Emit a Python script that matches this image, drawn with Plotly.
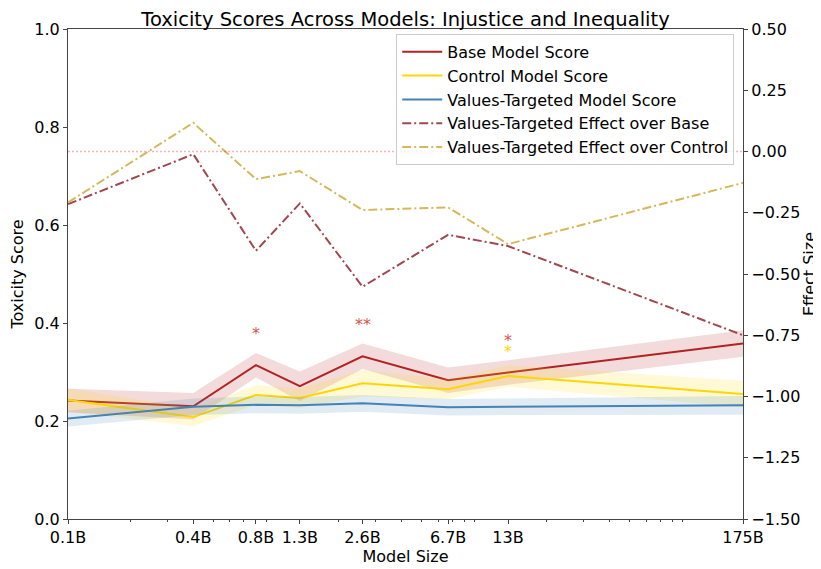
import math
import plotly.graph_objects as go
from plotly.subplots import make_subplots

# --- data ---
model_sizes = [0.1, 0.4, 0.8, 1.3, 2.6, 6.7, 13, 175]  # billions of params
size_labels = ["0.1B", "0.4B", "0.8B", "1.3B", "2.6B", "6.7B", "13B", "175B"]

base_score = [0.242, 0.230, 0.314, 0.271, 0.332, 0.283, 0.299, 0.358]
base_err = [0.024, 0.027, 0.025, 0.030, 0.026, 0.026, 0.025, 0.027]

control_score = [0.243, 0.208, 0.253, 0.247, 0.277, 0.265, 0.292, 0.255]
control_err = [0.024, 0.018, 0.020, 0.020, 0.027, 0.020, 0.022, 0.027]

values_score = [0.205, 0.229, 0.233, 0.232, 0.236, 0.228, 0.229, 0.232]
values_err = [0.016, 0.017, 0.017, 0.017, 0.017, 0.017, 0.017, 0.019]

effect_over_base = [-0.215, -0.011, -0.405, -0.212, -0.552, -0.340, -0.386, -0.750]
effect_over_control = [-0.208, 0.117, -0.113, -0.080, -0.239, -0.228, -0.378, -0.128]

# significance markers: (model, text, colour, height on score axis)
sig_x = [0.8, 2.6, 13, 13, 175]
sig_text = ["*", "**", "*", "*", "***"]
sig_color = ["#d9534f", "#d9534f", "#d9534f", "#ffd700", "#d9534f"]
sig_y = [0.383, 0.402, 0.368, 0.346, 0.430]

FONT = "DejaVu Sans"

series = [
    ("Base Model Score", base_score, base_err, "#b22222", "rgba(178,34,34,0.16)"),
    ("Control Model Score", control_score, control_err, "#ffd700", "rgba(255,215,0,0.16)"),
    ("Values-Targeted Model Score", values_score, values_err, "#4682b4", "rgba(70,130,180,0.16)"),
]

fig = make_subplots(specs=[[{"secondary_y": True}]])

rank = 1
for name, ys, err, col, fillcol in series:
    upper = [y + e for y, e in zip(ys, err)]
    lower = [y - e for y, e in zip(ys, err)]
    fig.add_trace(go.Scatter(x=model_sizes, y=upper, mode="lines", line=dict(width=0),
                             showlegend=False, hoverinfo="skip"), secondary_y=False)
    fig.add_trace(go.Scatter(x=model_sizes, y=lower, mode="lines", line=dict(width=0),
                             fill="tonexty", fillcolor=fillcol,
                             showlegend=False, hoverinfo="skip"), secondary_y=False)
    fig.add_trace(go.Scatter(x=model_sizes, y=ys, mode="lines", name=name,
                             line=dict(color=col, width=2), legendrank=rank),
                  secondary_y=False)
    rank += 1

dashdot = "9px,3px,2px,3px"
fig.add_trace(go.Scatter(x=model_sizes, y=effect_over_base, mode="lines",
                         name="Values-Targeted Effect over Base",
                         line=dict(color="#a0474f", width=2, dash=dashdot), legendrank=4),
              secondary_y=True)
fig.add_trace(go.Scatter(x=model_sizes, y=effect_over_control, mode="lines",
                         name="Values-Targeted Effect over Control",
                         line=dict(color="#d4b85a", width=2, dash=dashdot), legendrank=5),
              secondary_y=True)

# zero-effect reference line
fig.add_shape(type="line", xref="paper", x0=0, x1=1, yref="y2", y0=0, y1=0,
              line=dict(color="rgba(255,0,0,0.3)", width=1.5, dash="2px,2px"))

# annotations on a log axis take log10 positions
for sx, st, sc, sy in zip(sig_x, sig_text, sig_color, sig_y):
    fig.add_annotation(x=math.log10(sx), y=sy, xref="x", yref="y", text=st, showarrow=False,
                       font=dict(family=FONT, size=16, color=sc),
                       xanchor="right" if sx == model_sizes[-1] else "center",
                       yanchor="middle", yshift=-2)

minor_vals = [m * d for d in (0.1, 1, 10) for m in range(2, 10)]

# the page puts the figure 8px in from the top-left, so size it to fit the window
W, H = 813, 561
L, R, T, B = 60, 78, 21, 50

axis_font = dict(family=FONT, size=16, color="black")
fig.update_layout(
    width=W, height=H,
    margin=dict(l=L, r=R, t=T, b=B),
    plot_bgcolor="white", paper_bgcolor="white",
    font=dict(family=FONT, size=16, color="black"),
    title=dict(text="Toxicity Scores Across Models: Injustice and Inequality",
               x=(L + W - R) / 2 / W, xanchor="center", y=1 - 11 / H, yanchor="middle",
               font=dict(family=FONT, size=19.5, color="black")),
    legend=dict(x=0.987, y=0.99, xanchor="right", yanchor="top", traceorder="normal",
                bgcolor="rgba(255,255,255,0.8)", bordercolor="#cccccc", borderwidth=1,
                font=dict(family=FONT, size=16), tracegroupgap=0, itemwidth=40),
    showlegend=True,
)

fig.update_xaxes(type="log", range=[-1, 2.2430], domain=[0, 1], tickmode="array",
                 tickvals=model_sizes, ticktext=size_labels,
                 ticks="outside", ticklen=4, tickcolor="#444",
                 minor=dict(tickmode="array", tickvals=minor_vals, ticks="outside",
                            ticklen=2, tickcolor="#444"),
                 showline=True, linecolor="#444", linewidth=1.2, mirror=True,
                 showgrid=False, zeroline=False, tickfont=axis_font, automargin=False,
                 title=dict(text="Model Size", font=axis_font, standoff=2))

fig.update_yaxes(range=[0, 1.0], tickvals=[0, 0.2, 0.4, 0.6, 0.8, 1.0], tickformat=".1f",
                 ticks="outside", ticklen=4, tickcolor="#444",
                 showline=True, linecolor="#444", linewidth=1.2,
                 showgrid=False, zeroline=False, tickfont=axis_font, automargin=False,
                 title=dict(text="Toxicity Score", font=axis_font, standoff=9),
                 secondary_y=False)

fig.update_yaxes(range=[-1.5, 0.5], tickvals=[-1.5, -1.25, -1.0, -0.75, -0.5, -0.25, 0, 0.25, 0.5],
                 tickformat=".2f",
                 ticks="outside", ticklen=4, tickcolor="#444",
                 showline=True, linecolor="#444", linewidth=1.2,
                 showgrid=False, zeroline=False, tickfont=axis_font, automargin=False,
                 title=dict(text="Effect Size", font=axis_font, standoff=1),
                 secondary_y=True)

fig.write_html("out.html")
